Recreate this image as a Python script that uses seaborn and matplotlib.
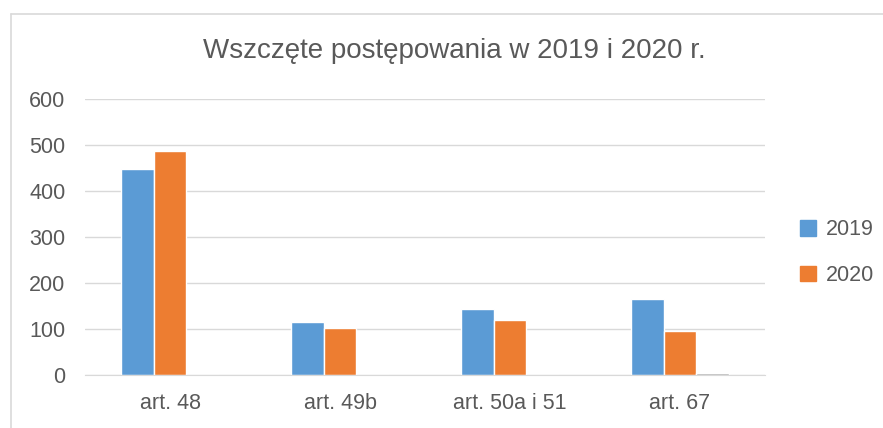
import seaborn as sns
import matplotlib.pyplot as plt
import pandas as pd
from matplotlib.lines import Line2D

kategorie = ['art. 48', 'art. 49b', 'art. 50a i 51', 'art. 67']
serie = ['2019', '2020', ' ']
wartosci_2019 = [448, 115, 143, 165]
wartosci_2020 = [487, 102, 120, 96]
wartosci_3 = [0, 0, 0, 4]

df = pd.DataFrame({
    'kategoria': kategorie * 3,
    'seria': [serie[0]] * 4 + [serie[1]] * 4 + [serie[2]] * 4,
    'wartosc': wartosci_2019 + wartosci_2020 + wartosci_3,
})

sns.set_style('white')
plt.rcParams['font.family'] = ['Liberation Sans', 'DejaVu Sans']

fig = plt.figure(figsize=(8.83, 4.28), dpi=100)
ax = fig.add_axes([85 / 883, 1 - 375 / 428, 680 / 883, 276 / 428])

kolory = {'2019': '#5B9BD5', '2020': '#ED7D31', ' ': '#A5A5A5'}
sns.barplot(data=df, x='kategoria', y='wartosc', hue='seria', palette=kolory,
            width=0.58, gap=0, ax=ax, legend=False, saturation=1)

ax.set_ylim(0, 600)
ax.set_yticks(range(0, 601, 100))
ax.grid(axis='y', color='#D9D9D9', linewidth=1)
ax.set_axisbelow(True)
for s in ['top', 'right', 'left']:
    ax.spines[s].set_visible(False)
ax.spines['bottom'].set_color('#D9D9D9')
ax.tick_params(axis='both', length=0, labelsize=15.5, colors='#595959')
ax.tick_params(axis='y', pad=14)
ax.tick_params(axis='x', pad=13)
ax.set_xlabel('')
ax.set_ylabel('')

fig.text(0.515, 0.882, 'Wszczęte postępowania w 2019 i 2020 r.', ha='center', va='center',
         fontsize=20, color='#595959')

uchwyty = [plt.Rectangle((0, 0), 1, 1, color=kolory[s]) for s in serie[:2]]
fig.legend(uchwyty, serie[:2], loc='center left', bbox_to_anchor=(0.884, 0.41),
           frameon=False, fontsize=15.5, labelcolor='#595959', handlelength=0.75,
           handleheight=0.75, handletextpad=0.45, labelspacing=1.15)

# ramka wykresu
fig.add_artist(Line2D([11 / 883, 11 / 883], [0, 1 - 14 / 428], color='#D9D9D9', lw=1.2))
fig.add_artist(Line2D([11 / 883, 1], [1 - 14 / 428, 1 - 14 / 428], color='#D9D9D9', lw=1.2))

fig.savefig('out.png', dpi=100, facecolor='white')
